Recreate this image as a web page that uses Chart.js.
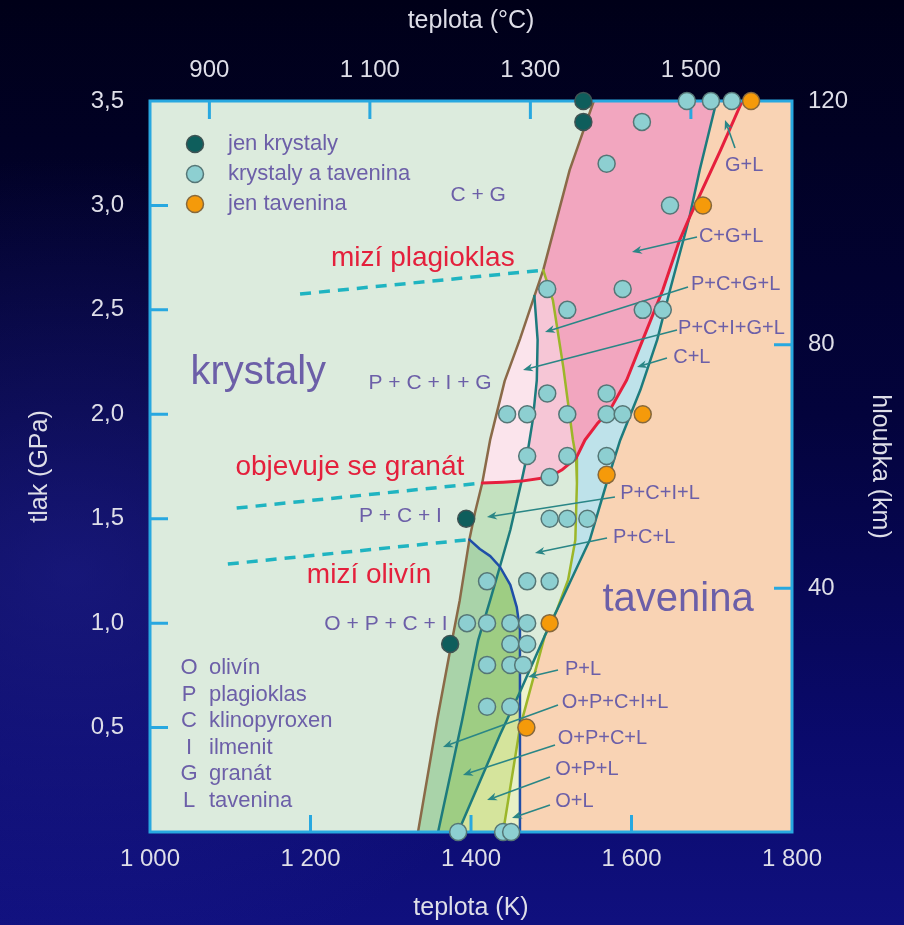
<!DOCTYPE html>
<html><head><meta charset="utf-8">
<script src="https://cdn.jsdelivr.net/npm/chart.js@4/dist/chart.umd.min.js"></script>
<style>
html,body{margin:0;padding:0;width:904px;height:925px;overflow:hidden;}
body{background:
  radial-gradient(ellipse 55% 45% at 8% 62%, rgba(36,36,150,0.55), rgba(0,0,0,0) 100%),
  linear-gradient(to bottom, #000018 0%, #03033c 45%, #0a0a6c 80%, #10107e 100%);}
#wrap{position:relative;width:904px;height:925px;}
</style></head><body>
<div id="wrap"><canvas id="c" width="904" height="925"></canvas></div>
<script>
// ===== axis ticks =====
const bottomTicksK = [1000, 1200, 1400, 1600, 1800];
const topTicksC = [900, 1100, 1300, 1500];
const leftTicksGPa = [0.5, 1.0, 1.5, 2.0, 2.5, 3.0, 3.5];
const rightTicksKm = [40, 80, 120];

// ===== junctions of phase boundaries [T (K), P (GPa)] =====
const J_OL  = [1398, 1.40];   // olivine-out meets solidus
const J_GT  = [1414, 1.671];  // garnet-in meets solidus
const J_ILM = [1479, 2.566];  // ilmenite-out meets solidus
const J_PL  = [1490, 2.69];   // plagioclase-out meets solidus
const J_RT2 = [1672, 2.94];   // garnet-out x cpx-out
const J_RO  = [1531, 1.79];   // garnet-out x plag-out
const J_RT1 = [1463, 1.68];   // garnet-out x ilm-out
const J_OT2 = [1492, 0.94];   // plag-out x cpx-out
const J_T2B = [1461, 0.67];   // cpx-out x olivine-out
const J_OB  = [1461, 0.50];   // plag-out x olivine-out
const J_BT1 = [1436, 1.27];   // olivine-out x ilm-out

// ===== boundary segments =====
const brownA = [[1334,0],[1358,0.54],[1374,0.87],[1386,1.11],J_OL];
const brownB = [J_OL,[1405,1.53],J_GT];
const brownC = [J_GT,[1424,1.88],[1442,2.16],[1461,2.36],J_ILM];
const brownD = [J_ILM,J_PL];
const brownE = [J_PL,[1523,3.17],[1553,3.5]];

const teal2A = [[1706,3.5],[1685,3.17],J_RT2];
const teal2B = [J_RT2,[1648,2.595],[1632,2.356],[1611,2.116],[1586,1.877],[1569,1.671],[1548,1.398],[1513,1.111],J_OT2];
const teal2C = [J_OT2,J_T2B];
const teal2D = [J_T2B,[1436,0.464],[1384,0]];

const redA = [[1738,3.5],[1711,3.265],J_RT2];
const redB = [J_RT2,[1660,2.834],[1639,2.595],[1614,2.356],[1594,2.164],[1573,2.02],[1557,1.953],[1542,1.877],J_RO];
const redC = [J_RO,[1513,1.733],[1498,1.70],J_RT1];
const redD = [J_RT1,[1440,1.675],J_GT];

const oliveA = [J_PL,[1502,2.547],[1515,2.226],[1527,1.877],J_RO];
const oliveB = [J_RO,[1532,1.671],[1530,1.398],[1521,1.207],[1507,1.063],J_OT2];
const oliveC = [J_OT2,J_OB];
const oliveD = [J_OB,[1440,0]];

const teal1A = [J_ILM,[1483,2.356],[1482,2.164],[1477,1.973],[1470,1.805],J_RT1];
const teal1B = [J_RT1,[1449,1.446],J_BT1];
const teal1C = [J_BT1,[1424,1.111],[1409,0.919],[1389,0.536],[1359,0]];

const blueA = [J_OL,[1411,1.355],[1424,1.321],J_BT1];
const blueB = [J_BT1,[1449,1.183],[1457,1.077],[1461,0.967],J_T2B];
const blueC = [J_T2B,J_OB];
const blueD = [J_OB,[1461,0]];

// dashed reaction lines
const plagDash = [[1187,2.576],J_PL];
const garnetDash = [[1108,1.551],J_GT];
const olivineDash = [[1097,1.283],J_OL];

// ===== experiments =====
const crystalsT = [1540, 1540, 1394, 1374];
const crystalsP = [3.5, 3.4, 1.5, 0.9];
const mixedT = [1669,1699,1725, 1613, 1569, 1648, 1495,1589, 1520,1614,1639, 1495,1569,
                1445,1470,1520,1569,1589, 1470,1520,1569, 1498, 1498,1520,1545,
                1420,1470,1498, 1395,1420,1449,1470, 1449,1470, 1420,1449,1465, 1420,1449, 1384,1440,1450];
const mixedP = [3.5,3.5,3.5, 3.4, 3.2, 3.0, 2.6,2.6, 2.5,2.5,2.5, 2.1,2.1,
                2.0,2.0,2.0,2.0,2.0, 1.8,1.8,1.8, 1.7, 1.5,1.5,1.5,
                1.2,1.2,1.2, 1.0,1.0,1.0,1.0, 0.9,0.9, 0.8,0.8,0.8, 0.6,0.6, 0,0,0];
const meltT = [1749, 1689, 1614, 1569, 1498, 1469];
const meltP = [3.5, 3.0, 2.0, 1.71, 1.0, 0.5];

// ===== helpers =====
function rev(s){ return s.slice().reverse(); }
function cat(...segs){
  const out=[];
  segs.forEach(s=>s.forEach(p=>{
    const l=out[out.length-1];
    if(!l || l[0]!==p[0] || l[1]!==p[1]) out.push(p);
  }));
  return out;
}
const xy = arr => arr.map(p=>({x:p[0], y:p[1]}));
const pts = (T,P) => T.map((t,i)=>({x:t, y:P[i]}));

const CRYSTAL_BG = '#dcebdd';
const regions = [
  {name:'tavenina', color:'#f9d3b4', poly: cat(teal2A, teal2B, oliveC, blueD, [[1800,0],[1800,3.5]])},
  {name:'C+G+L', color:'#f2a6bf', poly: cat(brownE, teal2A, redB, rev(oliveA))},
  {name:'C+L', color:'#bee2ea', poly: cat(teal2B, rev(oliveB), rev(redB))},
  {name:'P+C+G+L', color:'#f6c6d6', poly: cat(brownD, oliveA, redC, rev(teal1A))},
  {name:'P+C+I+G+L', color:'#fbe4ec', poly: cat(brownC, teal1A, redD)},
  {name:'P+C+I+L', color:'#c3e1bf', poly: cat(brownB, rev(redD), teal1B, rev(blueA))},
  {name:'P+C+L', color:'#dbebda', poly: cat(rev(redC), oliveB, teal2C, rev(blueB), rev(teal1B))},
  {name:'P+L', color:'#eff3ce', poly: cat(teal2C, blueC, rev(oliveC))},
  {name:'O+P+C+I+L', color:'#a9d3a9', poly: cat(brownA, blueA, teal1C)},
  {name:'O+P+C+L', color:'#9ecd83', poly: cat(blueB, teal2D, rev(teal1C))},
  {name:'O+P+L', color:'#d5e49c', poly: cat(teal2D, rev(oliveD), rev(blueC))},
  {name:'O+L', color:'#e8f0c6', poly: cat(oliveD, rev(blueD))}
];

const boundaries = [
  {data: cat(brownA,brownB,brownC,brownD,brownE), color:'#8a6a48', w:2.5},
  {data: cat(teal1A,teal1B,teal1C), color:'#1d7b7d', w:2.5},
  {data: cat(oliveA,oliveB,oliveC,oliveD), color:'#9cb629', w:2.5},
  {data: cat(blueA,blueB,blueC,blueD), color:'#1f4ea8', w:2.5},
  {data: cat(teal2A,teal2B,teal2C,teal2D), color:'#1d7b7d', w:2.5},
  {data: cat(redA,redB,redC,redD), color:'#e61f3d', w:3}
];

const FONT = '"Liberation Sans", Arial, Helvetica, sans-serif';
const PURPLE = '#6c5fa8';
const RED = '#e4203c';
const textLabels = [
  {t:'C + G', T:1409, P:3.05, size:21, color:PURPLE, align:'center'},
  {t:'krystaly', T:1135, P:2.20, size:40, color:PURPLE, align:'center'},
  {t:'P + C + I + G', T:1349, P:2.15, size:21, color:PURPLE, align:'center'},
  {t:'P + C + I', T:1312, P:1.51, size:21, color:PURPLE, align:'center'},
  {t:'O + P + C + I', T:1294, P:0.996, size:21, color:PURPLE, align:'center'},
  {t:'tavenina', T:1658, P:1.11, size:40, color:PURPLE, align:'center'},
  {t:'mizí plagioklas', T:1340, P:2.748, size:28, color:RED, align:'center'},
  {t:'objevuje se granát', T:1249, P:1.748, size:28, color:RED, align:'center'},
  {t:'mizí olivín', T:1273, P:1.23, size:28, color:RED, align:'center'},
  {t:'G+L', T:1716.5, P:3.19, size:20, color:PURPLE, align:'left'},
  {t:'C+G+L', T:1684, P:2.85, size:20, color:PURPLE, align:'left'},
  {t:'P+C+G+L', T:1674, P:2.62, size:20, color:PURPLE, align:'left'},
  {t:'P+C+I+G+L', T:1658, P:2.413, size:20, color:PURPLE, align:'left'},
  {t:'C+L', T:1652, P:2.274, size:20, color:PURPLE, align:'left'},
  {t:'P+C+I+L', T:1586, P:1.623, size:20, color:PURPLE, align:'left'},
  {t:'P+C+L', T:1577, P:1.412, size:20, color:PURPLE, align:'left'},
  {t:'P+L', T:1517, P:0.776, size:20, color:PURPLE, align:'left'},
  {t:'O+P+C+I+L', T:1513, P:0.622, size:20, color:PURPLE, align:'left'},
  {t:'O+P+C+L', T:1508, P:0.45, size:20, color:PURPLE, align:'left'},
  {t:'O+P+L', T:1505, P:0.297, size:20, color:PURPLE, align:'left'},
  {t:'O+L', T:1505, P:0.144, size:20, color:PURPLE, align:'left'}
];
// arrows: from label to region [T0,P0,T1,P1]
const arrows = [
  [1729,3.275,1716.5,3.409],
  [1681.6,2.849,1600.6,2.777],
  [1670.4,2.609,1492.2,2.394],
  [1656.7,2.404,1464.8,2.212],
  [1644.2,2.269,1606.9,2.226],
  [1579.4,1.604,1419.9,1.508],
  [1569.5,1.408,1479.7,1.336],
  [1508.4,0.776,1471,0.742],
  [1508.4,0.608,1365.1,0.407],
  [1504.7,0.417,1390,0.273],
  [1498.4,0.263,1420,0.153],
  [1498.4,0.129,1451.1,0.067]
];
const legendItems = ['jen krystaly','krystaly a tavenina','jen tavenina'];
const keyLetters = ['O','P','C','I','G','L'];
const keyWords = ['olivín','plagioklas','klinopyroxen','ilmenit','granát','tavenina'];

const STYLE_DARK = {fill:'#0e5e5c', border:'#3f5353'};
const STYLE_MIX = {fill:'#8dcfd1', border:'#557676'};
const STYLE_MELT = {fill:'#f59a0a', border:'#86683c'};

// ===== datasets =====
const datasets = [];
regions.forEach((r,i)=>{
  datasets.push({type:'line', label:r.name, data:xy(r.poly), fill:'shape', backgroundColor:r.color,
    borderColor:r.color, borderWidth:1, pointRadius:0, tension:0, order:200-i});
});
boundaries.forEach((b,i)=>{
  datasets.push({type:'line', data:xy(b.data), fill:false, borderColor:b.color, borderWidth:b.w,
    pointRadius:0, tension:0, order:50-i, borderJoinStyle:'round', borderCapStyle:'round'});
});
[plagDash, garnetDash, olivineDash].forEach((d,i)=>{
  datasets.push({type:'line', data:xy(d), fill:false, borderColor:'#1fb4c1', borderWidth:3.5,
    borderDash:[11,8], pointRadius:0, order:30-i, overlayAfter: i===2});
});
[[crystalsT,crystalsP,STYLE_DARK],[mixedT,mixedP,STYLE_MIX],[meltT,meltP,STYLE_MELT]].forEach((s,i)=>{
  datasets.push({type:'scatter', data:pts(s[0],s[1]), backgroundColor:s[2].fill, borderColor:s[2].border,
    borderWidth:1.5, pointRadius:8.5, clip:false, order:5-i});
});

function fmtThousands(v){ return String(v).replace(/\B(?=(\d{3})+(?!\d))/g,' '); }

const overlay = {
  id:'overlay',
  beforeDraw(chart){
    const {ctx, chartArea:a} = chart;
    ctx.save(); ctx.fillStyle = CRYSTAL_BG; ctx.fillRect(a.left,a.top,a.width,a.height); ctx.restore();
  },
  afterDatasetDraw(chart,args){
    if(!chart.data.datasets[args.index].overlayAfter) return;
    const {ctx, chartArea:a, scales} = chart;
    const sx = scales.x, sy = scales.y, st = scales.xTop, sr = scales.yRight;
    ctx.save();
    // frame
    ctx.strokeStyle = '#28a8e0'; ctx.lineWidth = 3;
    ctx.strokeRect(a.left, a.top, a.width, a.height);
    // inward ticks
    ctx.beginPath();
    bottomTicksK.slice(1,-1).forEach(v=>{const x=sx.getPixelForValue(v); ctx.moveTo(x,a.bottom); ctx.lineTo(x,a.bottom-17);});
    topTicksC.forEach(v=>{const x=st.getPixelForValue(v); ctx.moveTo(x,a.top); ctx.lineTo(x,a.top+18);});
    leftTicksGPa.slice(0,-1).forEach(v=>{const y=sy.getPixelForValue(v); ctx.moveTo(a.left,y); ctx.lineTo(a.left+18,y);});
    rightTicksKm.slice(0,-1).forEach(v=>{const y=sr.getPixelForValue(v); ctx.moveTo(a.right,y); ctx.lineTo(a.right-18,y);});
    ctx.stroke();
    // arrows
    ctx.strokeStyle = '#2a8686'; ctx.fillStyle = '#2a8686'; ctx.lineWidth = 1.6;
    arrows.forEach(ar=>{
      const x0=sx.getPixelForValue(ar[0]), y0=sy.getPixelForValue(ar[1]);
      const x1=sx.getPixelForValue(ar[2]), y1=sy.getPixelForValue(ar[3]);
      const ang=Math.atan2(y1-y0,x1-x0), L=10, W=4;
      ctx.beginPath(); ctx.moveTo(x0,y0); ctx.lineTo(x1-Math.cos(ang)*L*0.7,y1-Math.sin(ang)*L*0.7); ctx.stroke();
      ctx.beginPath(); ctx.moveTo(x1,y1);
      ctx.lineTo(x1-Math.cos(ang)*L+Math.sin(ang)*W, y1-Math.sin(ang)*L-Math.cos(ang)*W);
      ctx.lineTo(x1-Math.cos(ang)*L*0.7, y1-Math.sin(ang)*L*0.7);
      ctx.lineTo(x1-Math.cos(ang)*L-Math.sin(ang)*W, y1-Math.sin(ang)*L+Math.cos(ang)*W);
      ctx.closePath(); ctx.fill();
    });
    // labels
    ctx.textBaseline = 'middle';
    textLabels.forEach(l=>{
      ctx.font = l.size+'px '+FONT; ctx.fillStyle = l.color; ctx.textAlign = l.align;
      ctx.fillText(l.t, sx.getPixelForValue(l.T), sy.getPixelForValue(l.P));
    });
    // legend
    const styles=[STYLE_DARK,STYLE_MIX,STYLE_MELT];
    legendItems.forEach((t,i)=>{
      const y = a.top + 43 + i*30;
      ctx.beginPath(); ctx.arc(a.left+45, y, 8.5, 0, Math.PI*2);
      ctx.fillStyle=styles[i].fill; ctx.fill(); ctx.lineWidth=1.5; ctx.strokeStyle=styles[i].border; ctx.stroke();
      ctx.font = '22px '+FONT; ctx.fillStyle = PURPLE; ctx.textAlign='left';
      ctx.fillText(t, a.left+78, y);
    });
    // key
    keyLetters.forEach((k,i)=>{
      const y = a.bottom - 164 + i*26.6;
      ctx.font = '22px '+FONT; ctx.fillStyle = PURPLE;
      ctx.textAlign='center'; ctx.fillText(k, a.left+39, y);
      ctx.textAlign='left'; ctx.fillText(keyWords[i], a.left+59, y);
    });
    ctx.restore();
  }
};

const TICK_COLOR = '#dedee8';
new Chart(document.getElementById('c'), {
  type:'scatter',
  data:{datasets},
  options:{
    responsive:false, animation:false, devicePixelRatio:1,
    layout:{padding:0},
    plugins:{legend:{display:false}, tooltip:{enabled:false}},
    scales:{
      x:{type:'linear', position:'bottom', min:1000, max:1800,
        afterBuildTicks:s=>{s.ticks=bottomTicksK.map(v=>({value:v}));},
        ticks:{color:TICK_COLOR, font:{size:24, family:FONT}, padding:13, maxRotation:0, callback:v=>fmtThousands(v)},
        grid:{display:false, drawTicks:false}, border:{display:false},
        title:{display:true, text:'teplota (K)', color:TICK_COLOR, font:{size:25, family:FONT}, padding:{top:0,bottom:2}},
        afterFit:s=>{s.height=93;}},
      xTop:{type:'linear', position:'top', min:826, max:1626,
        afterBuildTicks:s=>{s.ticks=topTicksC.map(v=>({value:v}));},
        ticks:{color:TICK_COLOR, font:{size:24, family:FONT}, padding:16, maxRotation:0, callback:v=>fmtThousands(v)},
        grid:{display:false, drawTicks:false}, border:{display:false},
        title:{display:true, text:'teplota (°C)', color:TICK_COLOR, font:{size:25, family:FONT}, padding:{top:6,bottom:0}},
        afterFit:s=>{s.height=101;}},
      y:{type:'linear', position:'left', min:0, max:3.5,
        afterBuildTicks:s=>{s.ticks=leftTicksGPa.map(v=>({value:v}));},
        ticks:{color:TICK_COLOR, font:{size:24, family:FONT}, padding:26, callback:v=>v.toFixed(1).replace('.',',')},
        grid:{display:false, drawTicks:false}, border:{display:false},
        title:{display:true, text:'tlak (GPa)', color:TICK_COLOR, font:{size:25, family:FONT}, padding:{top:25,bottom:0}},
        afterFit:s=>{s.width=150;}},
      yRight:{type:'linear', position:'right', min:0, max:120,
        afterBuildTicks:s=>{s.ticks=rightTicksKm.map(v=>({value:v}));},
        ticks:{color:TICK_COLOR, font:{size:24, family:FONT}, padding:16},
        grid:{display:false, drawTicks:false}, border:{display:false},
        title:{display:true, text:'hloubka (km)', color:TICK_COLOR, font:{size:25, family:FONT}, padding:{top:9,bottom:0}},
        afterFit:s=>{s.width=112;}}
    }
  },
  plugins:[overlay]
});
</script>
</body></html>
